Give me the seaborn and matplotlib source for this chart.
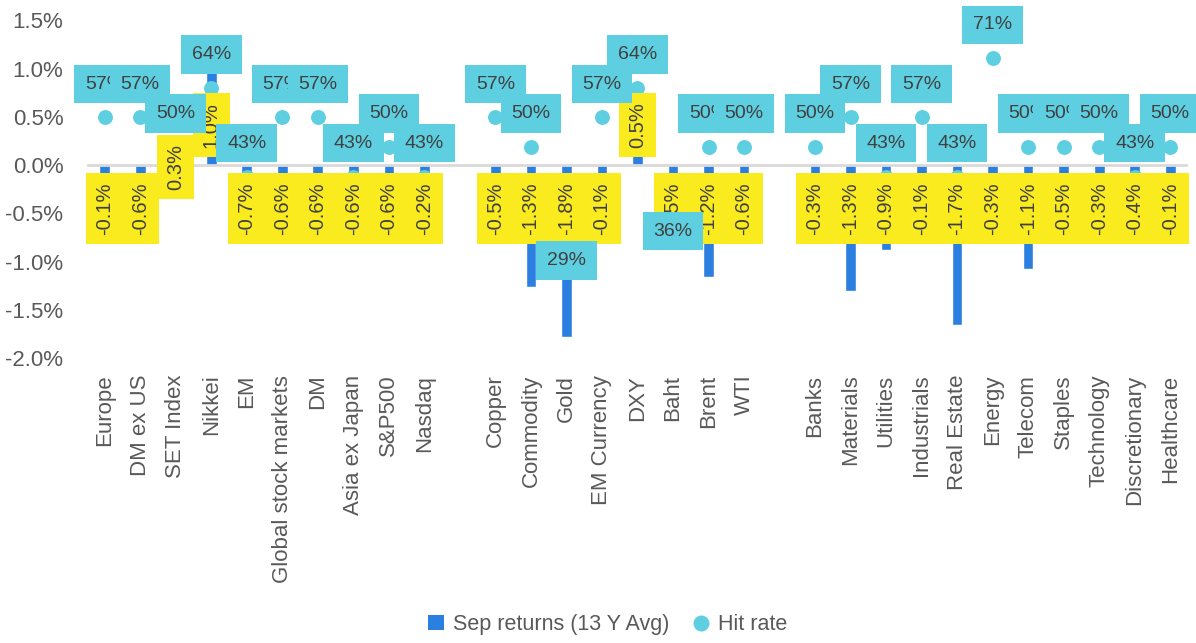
import pandas as pd
import seaborn as sns
import matplotlib.pyplot as plt
from matplotlib.patches import Patch
from matplotlib.lines import Line2D
from matplotlib.ticker import FuncFormatter

# --- DATA ---
EQUITIES = ["Europe", "DM ex US", "SET Index", "Nikkei", "EM", "Global stock markets",
            "DM", "Asia ex Japan", "S&P500", "Nasdaq"]
EQ_RETURNS = [-0.1, -0.6, 0.3, 0.97, -0.7, -0.6, -0.6, -0.6, -0.6, -0.2]
EQ_HIT = [57, 57, 50, 64, 43, 57, 57, 43, 50, 43]

ASSETS = ["Copper", "Commodity", "Gold", "EM Currency", "DXY", "Baht", "Brent", "WTI"]
ASSET_RETURNS = [-0.5, -1.26, -1.78, -0.1, 0.5, -0.5, -1.16, -0.6]
ASSET_HIT = [57, 50, 29, 57, 64, 36, 50, 50]

SECTORS = ["Banks", "Materials", "Utilities", "Industrials", "Real Estate", "Energy",
           "Telecom", "Staples", "Technology", "Discretionary", "Healthcare"]
SECTOR_RETURNS = [-0.3, -1.31, -0.88, -0.1, -1.66, -0.3, -1.08, -0.5, -0.3, -0.4, -0.1]
SECTOR_HIT = [50, 57, 43, 57, 43, 71, 50, 50, 50, 43, 50]

Y_TICKS = [-2.0, -1.5, -1.0, -0.5, 0.0, 0.5, 1.0, 1.5]

BLUE = "#2B7FE0"
CYAN = "#5DCFE0"
YELLOW = "#F9EB1E"
TEXT = "#404040"
GREY = "#595959"

# empty slots between the three groups
ORDER = EQUITIES + [" "] + ASSETS + ["  "] + SECTORS

df = pd.DataFrame({
    "category": EQUITIES + ASSETS + SECTORS,
    "returns": EQ_RETURNS + ASSET_RETURNS + SECTOR_RETURNS,
    "hit_rate": EQ_HIT + ASSET_HIT + SECTOR_HIT,
})
df["pos"] = [ORDER.index(c) for c in df["category"]]

sns.set_theme(style="white")
plt.rcParams["font.family"] = ["Liberation Sans", "DejaVu Sans"]

fig = plt.figure(figsize=(11.96, 6.43), dpi=100)
ax = fig.add_axes([0.0727, 0.4432, 0.9206, 0.5252])

sns.barplot(data=df, x="category", y="returns", order=ORDER, color=BLUE,
            saturation=1, width=0.3, ax=ax)
ax.axhline(0, color="#D9D9D9", lw=2, zorder=3)
ax.set_xlim(-0.5, len(ORDER) - 0.5)
ax.set_ylim(-2.0, 1.5)
ax.set_yticks(Y_TICKS)
ax.yaxis.set_major_formatter(FuncFormatter(lambda v, _: f"{v:.1f}%"))
ax.set_xlabel("")
ax.set_ylabel("")
ax.tick_params(axis="x", rotation=90, length=0, pad=12, labelsize=16, labelcolor=GREY)
ax.tick_params(axis="y", length=0, pad=17, labelsize=16, labelcolor=GREY)
sns.despine(ax=ax, left=True, bottom=True)

# hit rate on a hidden secondary axis (0-80%)
ax2 = ax.twinx()
ax2.set_ylim(0, 80)
sns.scatterplot(data=df, x="pos", y="hit_rate", color=CYAN, s=115, linewidth=0,
                ax=ax2, legend=False, zorder=2)
ax2.set_xlim(-0.5, len(ORDER) - 0.5)
ax2.axis("off")

# yellow value labels, rotated, starting at the zero line
val_labels = []
for _, r in df.iterrows():
    neg = r["returns"] < 0
    t = ax2.annotate(f"{r['returns']:.1f}%", xy=(r["pos"], 0), xycoords=ax.transData,
                     xytext=(0, -12.5 if neg else 12.5), textcoords="offset points",
                     rotation=90, ha="center", va="top" if neg else "bottom",
                     fontsize=14.5, color=TEXT, zorder=5,
                     bbox=dict(boxstyle="square,pad=0.45", fc=YELLOW, ec="none"))
    val_labels.append(t)

# cyan hit-rate labels
hit_labels = []
for _, r in df.iterrows():
    low = r["hit_rate"] < 40
    t = ax2.annotate(f"{r['hit_rate']}%", xy=(r["pos"], r["hit_rate"]),
                     xytext=(0, -18 if low else 24), textcoords="offset points",
                     ha="center", va="center", fontsize=14, color=TEXT, zorder=6,
                     bbox=dict(boxstyle="square,pad=0.55", fc=CYAN, ec="none"))
    hit_labels.append(t)

# a positive value label that runs into its own hit-rate box slides down below it
fig.canvas.draw()
renderer = fig.canvas.get_renderer()
for (_, r), vl, hl in zip(df.iterrows(), val_labels, hit_labels):
    if r["returns"] <= 0:
        continue
    vb = vl.get_bbox_patch().get_window_extent(renderer)
    hb = hl.get_bbox_patch().get_window_extent(renderer)
    if vb.overlaps(hb):
        shift = (vb.y1 - hb.y0 + 2) * 72 / fig.dpi
        vl.xyann = (0, vl.xyann[1] - shift)

handles = [
    Patch(facecolor=BLUE, edgecolor="none", label="Sep returns (13 Y Avg)"),
    Line2D([], [], marker="o", ls="none", color=CYAN, markersize=10.5, label="Hit rate"),
]
fig.legend(handles=handles, loc="center", bbox_to_anchor=(0.508, 0.028), ncol=2,
           frameon=False, fontsize=15.5, handlelength=0.75, handletextpad=0.4,
           columnspacing=1.1, labelcolor=GREY)

fig.savefig("out.png", dpi=100)
